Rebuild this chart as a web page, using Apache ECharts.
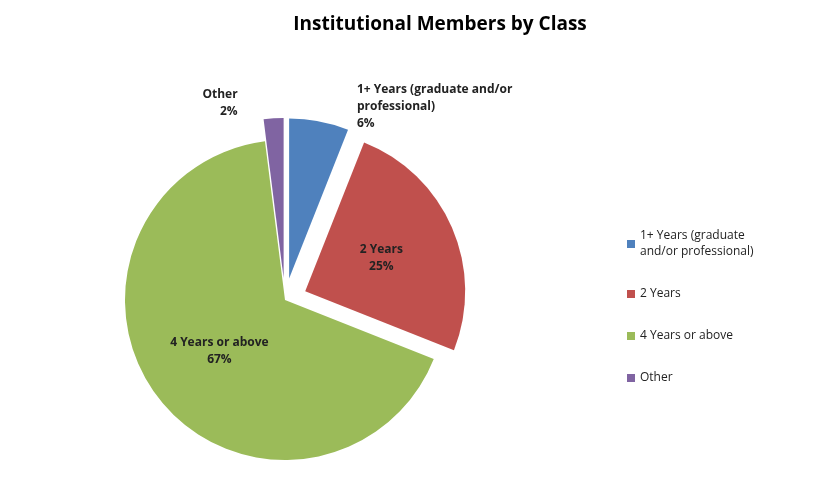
<!DOCTYPE html>
<html><head><meta charset="utf-8">
<script src="https://cdn.jsdelivr.net/npm/echarts@6/dist/echarts.min.js"></script>
<style>html,body{margin:0;background:#fff}#c{width:822px;height:498px}</style>
</head><body><div id="c"></div>
<script>
const categories = ['1+ Years (graduate and/or professional)', '2 Years', '4 Years or above', 'Other'];
const values = [6, 25, 67, 2];
const colors = ['#4F81BD', '#C0504D', '#9BBB59', '#8064A2'];
const exploded = [true, true, false, true];

const chart = echarts.init(document.getElementById('c'));
const labelInside = {position: 'inside', formatter: '{b}\n{d}%'};
chart.setOption({
  animation: false,
  title: {text: 'Institutional Members by Class', left: 435, top: 10, textAlign: 'center',
    textStyle: {fontFamily: 'Open Sans', fontSize: 19, fontWeight: 'bold', color: '#000'}},
  legend: {orient: 'vertical', left: 622, top: 223, itemWidth: 8, itemHeight: 8, itemGap: 26,
    icon: 'rect', textStyle: {fontFamily: 'Open Sans', fontSize: 12, color: '#222', lineHeight: 16},
    formatter: n => n === categories[0] ? '1+ Years (graduate\nand/or professional)' : n,
    data: categories},
  series: [{
    type: 'pie', center: [285, 300], radius: 160, startAngle: 90, clockwise: true,
    selectedMode: 'multiple', selectedOffset: 22,
    label: {fontFamily: 'Open Sans', fontSize: 12, fontWeight: 'bold', color: '#222', lineHeight: 17},
    labelLine: {show: false},
    data: categories.map((c, i) => {
      const d = {name: c, value: values[i], selected: exploded[i], itemStyle: {color: colors[i]}};
      if (i === 0) d.label = {position: 'outside', formatter: '1+ Years (graduate and/or\nprofessional)\n{d}%', align: 'center'};
      else if (i === 3) d.label = {position: 'outside', formatter: '{b}\n{d}%', align: 'center'};
      else d.label = labelInside;
      return d;
    })
  }]
});
</script></body></html>
